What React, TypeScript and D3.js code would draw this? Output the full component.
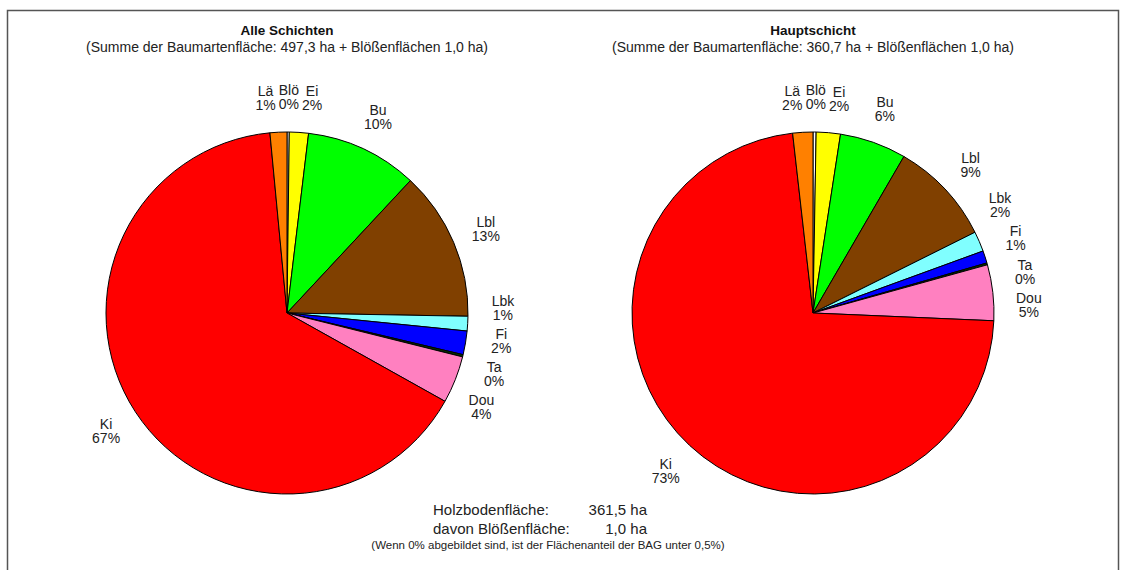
import React from 'react';
import * as d3 from 'd3';

// Baumarten in Zeichenreihenfolge (im Uhrzeigersinn ab 12 Uhr)
const species = ['Blö', 'Ei', 'Bu', 'Lbl', 'Lbk', 'Fi', 'Ta', 'Dou', 'Ki', 'Lä'];
const speciesColors = ['#ffffff', '#ffff00', '#00ff00', '#804000', '#80ffff', '#0000ff', '#003300', '#ff80c0', '#ff0000', '#ff8000'];

const alleSchichten = [1.0, 8.5, 50.0, 66.5, 6.5, 10.5, 1.0, 21.0, 325.8, 7.5];
const hauptschicht = [1.0, 7.8, 21.5, 33.5, 6.5, 4.0, 0.6, 18.0, 262.3, 6.5];

// Prozentbeschriftungen wie im Original
const alleSchichtenPct = ['0%', '2%', '10%', '13%', '1%', '2%', '0%', '4%', '67%', '1%'];
const hauptschichtPct = ['0%', '2%', '6%', '9%', '2%', '1%', '0%', '5%', '73%', '2%'];

const chartTitles = ['Alle Schichten', 'Hauptschicht'];
const holzboden = '361,5 ha';
const bloessen = '1,0 ha';
const footnote = '(Wenn 0% abgebildet sind, ist der Flächenanteil der BAG unter 0,5%)';

const W = 1124;
const H = 570;
const R = 181;
const LABEL_R = 216;
const FONT = 'Liberation Sans, Arial, sans-serif';

interface Slice {
  name: string;
  value: number;
  color: string;
  pct: string;
}

interface LabelPos {
  name: string;
  pct: string;
  angle: number;
  hw: number;
  hh: number;
}

const fmt = (v: number) => v.toFixed(1).replace('.', ',');

function layoutLabels(arcs: d3.PieArcDatum<Slice>[]): LabelPos[] {
  const labels: LabelPos[] = arcs.map(a => {
    const len = Math.max(a.data.name.length, a.data.pct.length);
    return {
      name: a.data.name,
      pct: a.data.pct,
      angle: (a.startAngle + a.endAngle) / 2,
      hw: (len * 7.6 + 4) / 2,
      hh: 16.5,
    };
  });
  const pos = (l: LabelPos) => [LABEL_R * Math.sin(l.angle), -LABEL_R * Math.cos(l.angle)];
  const step = 0.002;
  for (let it = 0; it < 2000; it++) {
    let moved = false;
    for (let i = 0; i < labels.length; i++) {
      for (let j = i + 1; j < labels.length; j++) {
        const [xi, yi] = pos(labels[i]);
        const [xj, yj] = pos(labels[j]);
        if (Math.abs(xi - xj) < labels[i].hw + labels[j].hw && Math.abs(yi - yj) < labels[i].hh + labels[j].hh) {
          let d = labels[j].angle - labels[i].angle;
          while (d > Math.PI) d -= 2 * Math.PI;
          while (d < -Math.PI) d += 2 * Math.PI;
          const s = d >= 0 ? 1 : -1;
          labels[i].angle -= s * step;
          labels[j].angle += s * step;
          moved = true;
        }
      }
    }
    if (!moved) break;
  }
  return labels;
}

const Pie: React.FC<{ cx: number; cy: number; values: number[]; pcts: string[]; title: string }> = ({ cx, cy, values, pcts, title }) => {
  const data: Slice[] = species.map((name, i) => ({ name, value: values[i], color: speciesColors[i], pct: pcts[i] }));
  const total = d3.sum(values);
  const baumarten = total - values[0];
  const arcs = d3.pie<Slice>().sort(null).value(d => d.value)(data);
  const arc = d3.arc<d3.PieArcDatum<Slice>>().innerRadius(0).outerRadius(R);
  const labels = layoutLabels(arcs);

  return (
    <g>
      <text x={cx} y={35} textAnchor="middle" fontFamily={FONT} fontSize={13.5} fontWeight="bold" fill="#111">{title}</text>
      <text x={cx} y={52} textAnchor="middle" fontFamily={FONT} fontSize={14} fill="#222">
        {`(Summe der Baumartenfläche: ${fmt(baumarten)} ha + Blößenflächen ${fmt(values[0])} ha)`}
      </text>
      <g transform={`translate(${cx},${cy})`}>
        {arcs.map((a, i) => (
          <path key={i} d={arc(a) || ''} fill={a.data.color} stroke="#000" strokeWidth={1} />
        ))}
        {labels.map((l, i) => {
          const x = LABEL_R * Math.sin(l.angle);
          const y = -LABEL_R * Math.cos(l.angle);
          return (
            <g key={i} fontFamily={FONT} fontSize={14} fill="#222" textAnchor="middle">
              <text x={x} y={y - 2}>{l.name}</text>
              <text x={x} y={y + 12}>{l.pct}</text>
            </g>
          );
        })}
      </g>
    </g>
  );
};

export default function App() {
  return (
    <svg width={W} height={H} style={{ position: 'absolute', left: 0, top: 0, background: '#fff' }}>
      <rect x={7.5} y={10.5} width={1111} height={580} fill="none" stroke="#555" strokeWidth={1.5} />
      <Pie cx={287} cy={313} values={alleSchichten} pcts={alleSchichtenPct} title={chartTitles[0]} />
      <Pie cx={813} cy={313} values={hauptschicht} pcts={hauptschichtPct} title={chartTitles[1]} />
      <g fontFamily={FONT} fontSize={15} fill="#222">
        <text x={433} y={515}>Holzbodenfläche:</text>
        <text x={647} y={515} textAnchor="end">{holzboden}</text>
        <text x={433} y={534}>davon Blößenfläche:</text>
        <text x={647} y={534} textAnchor="end">{bloessen}</text>
      </g>
      <text x={548} y={549} textAnchor="middle" fontFamily={FONT} fontSize={11.5} fill="#222">{footnote}</text>
    </svg>
  );
}
